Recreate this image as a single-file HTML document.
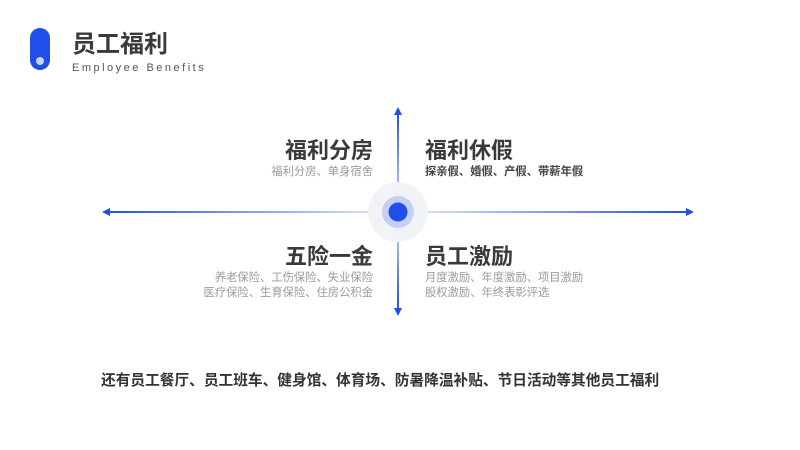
<!DOCTYPE html>
<html><head><meta charset="utf-8"><style>
body{margin:0;width:800px;height:450px;background:#fff;position:relative;overflow:hidden;font-family:"Liberation Sans","Noto Sans CJK SC",sans-serif}
.a{position:absolute;white-space:nowrap;line-height:1}
.h{font-size:22px;font-weight:bold;color:#3a3a3a}
.s{font-size:11.3px;color:#9a9a9a}
.r{text-align:right}
</style></head><body>
<div class="a" style="left:30px;top:28px;width:20px;height:42px;border-radius:10px;background:#1f4fe8"></div>
<div class="a" style="left:36px;top:57px;width:8px;height:8px;border-radius:50%;background:#c9d3fb"></div>
<div class="a" style="left:72px;top:33px;font-size:24px;font-weight:bold;color:#3a3a3a">员工福利</div>
<div class="a" style="left:72px;top:63px;font-size:11px;color:#555;letter-spacing:2.5px">Employee Benefits</div>
<svg class="a" style="left:0;top:0" width="800" height="450">
<defs>
<linearGradient id="gl" x1="0" x2="1"><stop offset="0" stop-color="#1f4fe8"/><stop offset="1" stop-color="#1f4fe8" stop-opacity="0.1"/></linearGradient>
<linearGradient id="gr" x1="0" x2="1"><stop offset="0" stop-color="#1f4fe8" stop-opacity="0.1"/><stop offset="1" stop-color="#1f4fe8"/></linearGradient>
<linearGradient id="gu" x1="0" y1="0" x2="0" y2="1"><stop offset="0" stop-color="#1f4fe8"/><stop offset="1" stop-color="#1f4fe8" stop-opacity="0.15"/></linearGradient>
<linearGradient id="gd" x1="0" y1="0" x2="0" y2="1"><stop offset="0" stop-color="#1f4fe8" stop-opacity="0.15"/><stop offset="1" stop-color="#1f4fe8"/></linearGradient>
</defs>
<rect x="104" y="211" width="294" height="2" fill="url(#gl)"/>
<rect x="398" y="211" width="290" height="2" fill="url(#gr)"/>
<rect x="397" y="112" width="2" height="100" fill="url(#gu)"/>
<rect x="397" y="212" width="2" height="98" fill="url(#gd)"/>
<path d="M102 212 L110 208 L110 216Z M694 212 L686 208 L686 216Z M398 107 L394 115 L402 115Z M398 316 L394 308 L402 308Z" fill="#1f4fe8"/>
<circle cx="398" cy="212" r="30" fill="#f2f3f6"/>
<circle cx="398" cy="212" r="16" fill="#c6d0f5"/>
<circle cx="398" cy="212" r="9.5" fill="#1f4fe8"/>
</svg>
<div class="a h r" style="right:427px;top:140px">福利分房</div>
<div class="a s r" style="right:427px;top:167px">福利分房、单身宿舍</div>
<div class="a h" style="left:425px;top:140px">福利休假</div>
<div class="a s" style="left:425px;top:167px;color:#444;font-weight:bold">探亲假、婚假、产假、带薪年假</div>
<div class="a h r" style="right:427px;top:246px">五险一金</div>
<div class="a s r" style="right:427px;top:273px">养老保险、工伤保险、失业保险</div>
<div class="a s r" style="right:427px;top:288px">医疗保险、生育保险、住房公积金</div>
<div class="a h" style="left:425px;top:246px">员工激励</div>
<div class="a s" style="left:425px;top:273px">月度激励、年度激励、项目激励</div>
<div class="a s" style="left:425px;top:288px">股权激励、年终表彰评选</div>
<div class="a" style="left:101px;top:374px;font-size:14.7px;font-weight:bold;color:#333">还有员工餐厅、员工班车、健身馆、体育场、防暑降温补贴、节日活动等其他员工福利</div>
</body></html>
